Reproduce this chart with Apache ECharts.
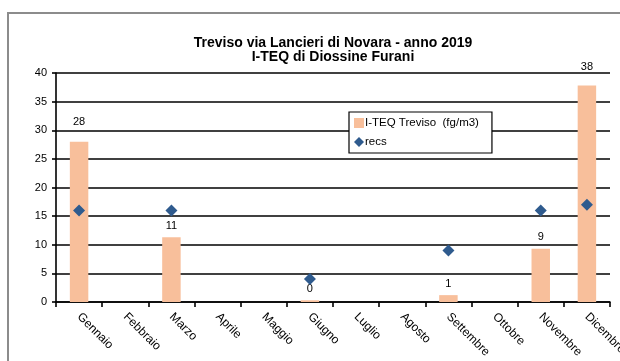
<!DOCTYPE html>
<html>
<head>
<meta charset="utf-8">
<script src="https://cdn.jsdelivr.net/npm/echarts@6/dist/echarts.min.js"></script>
<style>
  html, body { margin: 0; padding: 0; background: #fff; }
  #chart { width: 620px; height: 361px; }
</style>
</head>
<body>
<div id="chart"></div>
<script>
// Monthly I-TEQ values (fg/m3) and the reference "recs" points
const months = ['Gennaio', 'Febbraio', 'Marzo', 'Aprile', 'Maggio', 'Giugno',
                'Luglio', 'Agosto', 'Settembre', 'Ottobre', 'Novembre', 'Dicembre'];
const iteqTreviso = [28, null, 11.3, null, null, 0.3, null, null, 1.2, null, 9.3, 37.8];
const recs = [16, null, 16, null, null, 4, null, null, 9, null, 16, 17];
const yTicks = { min: 0, max: 40, interval: 5 };

const FONT = 'Liberation Sans, Arial, sans-serif';

// labels of the tallest bars sit a little higher, clear of the gridlines
const labelLift = { 0: -8, 11: -7 };
const barData = iteqTreviso.map((v, i) =>
  labelLift[i] ? { value: v, label: { offset: [0, labelLift[i]] } } : v);

const chart = echarts.init(document.getElementById('chart'));

chart.setOption({
  animation: false,
  backgroundColor: '#fff',
  graphic: [{
    type: 'rect',
    shape: { x: 8, y: 13, width: 640, height: 400 },
    style: { fill: 'none', stroke: '#8c8c8c', lineWidth: 2 },
    silent: true
  }],
  title: {
    text: 'Treviso via Lancieri di Novara - anno 2019\nI-TEQ di Diossine Furani',
    left: 328, top: 31, textAlign: 'center',
    textStyle: { fontFamily: FONT, fontSize: 14, fontWeight: 'bold', color: '#000', lineHeight: 14 }
  },
  legend: {
    orient: 'vertical',
    left: 349, top: 112,
    padding: [5, 13, 5, 5],
    itemGap: 7,
    itemWidth: 10, itemHeight: 10,
    backgroundColor: '#fff',
    borderColor: '#000', borderWidth: 1.2,
    textStyle: { fontFamily: FONT, fontSize: 11.5, color: '#000', padding: [0, 0, 0, -4] },
    data: [
      { name: 'I-TEQ Treviso  (fg/m3)', icon: 'rect' },
      { name: 'recs', icon: 'diamond' }
    ]
  },
  // fixed plot rectangle; the last month label is allowed to run past the edge
  grid: { left: 56, right: 10, top: 73, bottom: 59, outerBoundsMode: 'none', containLabel: false },
  xAxis: {
    type: 'category',
    data: months,
    boundaryGap: true,
    axisLine: { lineStyle: { color: '#000', width: 1.6 } },
    axisTick: { show: true, alignWithLabel: false, length: 5, lineStyle: { color: '#000', width: 1.6 } },
    axisLabel: { interval: 0, rotate: -45, fontFamily: FONT, fontSize: 12, color: '#000', margin: 13 }
  },
  yAxis: {
    type: 'value',
    min: yTicks.min, max: yTicks.max, interval: yTicks.interval,
    axisLine: { show: true, lineStyle: { color: '#000', width: 1.6 } },
    axisTick: { show: true, length: 4, lineStyle: { color: '#000', width: 1.6 } },
    axisLabel: { fontFamily: FONT, fontSize: 11, color: '#000', margin: 9 },
    splitLine: { lineStyle: { color: '#000', width: 1.6 } }
  },
  series: [
    {
      name: 'I-TEQ Treviso  (fg/m3)',
      type: 'bar',
      data: barData,
      barWidth: '40%',
      itemStyle: { color: '#F8BF9B' },
      label: {
        show: true, position: 'top', distance: 6,
        fontFamily: FONT, fontSize: 11, color: '#000',
        formatter: p => Math.round(p.value)
      }
    },
    {
      name: 'recs',
      type: 'scatter',
      data: recs,
      symbol: 'diamond',
      symbolSize: 12,
      itemStyle: { color: '#2F5B8E', opacity: 1 },
      z: 3
    }
  ]
});
</script>
</body>
</html>
